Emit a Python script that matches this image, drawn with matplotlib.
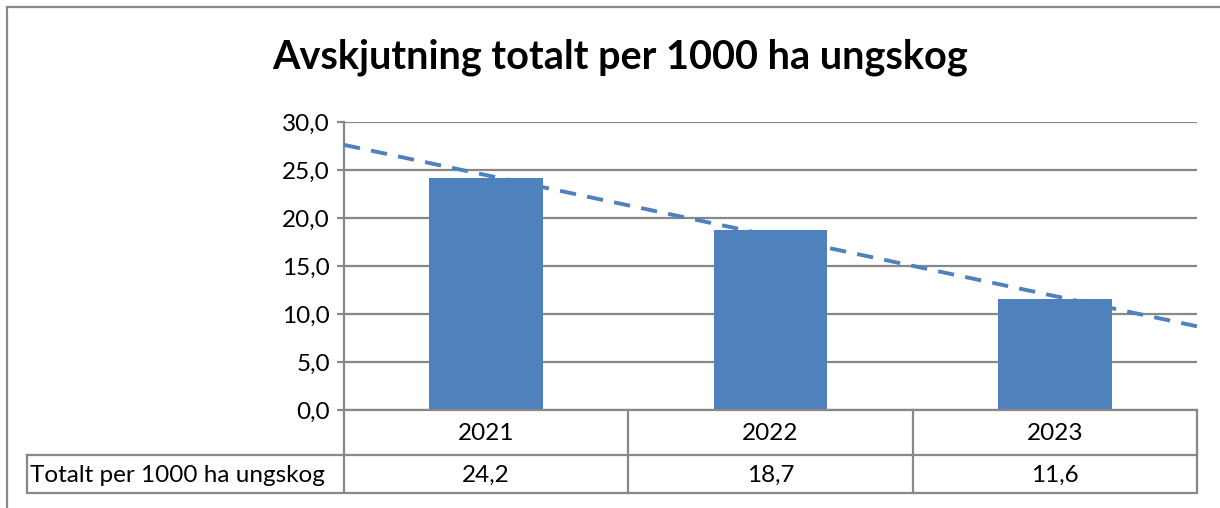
import numpy as np
import matplotlib
matplotlib.use('Agg')
import matplotlib.pyplot as plt
from matplotlib.lines import Line2D
from matplotlib.ticker import FuncFormatter, MultipleLocator

# data
aar = ['2021', '2022', '2023']
verdier = [24.2, 18.7, 11.6]
rad_navn = 'Totalt per 1000 ha ungskog'
tittel = 'Avskjutning totalt per 1000 ha ungskog'

W, H = 1220, 508
blaa = '#4F81BD'
graa = '#888888'
plt.rcParams['font.family'] = ['Lato', 'DejaVu Sans']
fs = 17.5

fig = plt.figure(figsize=(W / 100, H / 100), dpi=100)

def fx(x):
    return x / W

def fy(y):
    return 1 - y / H

# plotteområde i piksler
x0, x1, ytop, ybun = 344, 1197, 122, 410
ax = fig.add_axes([fx(x0), fy(ybun), fx(x1) - fx(x0), fy(ytop) - fy(ybun)])

pos = np.arange(1, len(verdier) + 1)
ax.bar(pos, verdier, width=0.4, color=blaa, zorder=3)

# lineær trendlinje
k = np.polyfit(pos, verdier, 1)
xt = np.array([0.5, len(verdier) + 0.5])
trend, = ax.plot(xt, np.polyval(k, xt), color=blaa, lw=2.8, zorder=4, clip_on=False)
trend.set_dashes((4.2, 2.9))

ax.set_xlim(0.5, len(verdier) + 0.5)
ax.set_ylim(0, 30)
ax.yaxis.set_major_locator(MultipleLocator(5))
ax.yaxis.set_major_formatter(FuncFormatter(lambda v, p: f'{v:.1f}'.replace('.', ',')))
ax.grid(axis='y', color=graa, lw=1.6, zorder=0)
ax.set_xticks([])
for s in ['top', 'right', 'bottom']:
    ax.spines[s].set_visible(False)
ax.spines['left'].set_color(graa)
ax.spines['left'].set_linewidth(1.6)
ax.tick_params(axis='y', length=5, width=1.6, color=graa, labelsize=fs, pad=5)

# tittel
fig.text(fx(620), fy(69), tittel, ha='center', va='baseline', fontsize=28.5, fontweight='bold')

# datatabell under
def linje(xa, ya, xb, yb):
    fig.add_artist(Line2D([fx(xa), fx(xb)], [fy(ya), fy(yb)], color=graa, lw=1.6))

rad1, rad2, rad3 = 410, 455, 493
kol = np.linspace(x0, x1, len(aar) + 1)
linje(x0, rad1, x1, rad1)
linje(27, rad2, x1, rad2)
linje(27, rad3, x1, rad3)
linje(27, rad2, 27, rad3)
for c in kol:
    linje(c, rad1, c, rad3)
for i in range(len(aar)):
    xm = (kol[i] + kol[i + 1]) / 2
    fig.text(fx(xm), fy((rad1 + rad2) / 2 + 1), aar[i], ha='center', va='center', fontsize=fs)
    fig.text(fx(xm), fy((rad2 + rad3) / 2 + 1), f'{verdier[i]:.1f}'.replace('.', ','),
             ha='center', va='center', fontsize=fs)
fig.text(fx(30), fy((rad2 + rad3) / 2 + 1), rad_navn, ha='left', va='center', fontsize=fs)

# ramme rundt diagrammet
fig.add_artist(Line2D([fx(7), fx(7)], [fy(7), 0], color=graa, lw=1.6))
fig.add_artist(Line2D([fx(7), 1], [fy(7), fy(7)], color=graa, lw=1.6))

fig.savefig('out.png', dpi=100)
